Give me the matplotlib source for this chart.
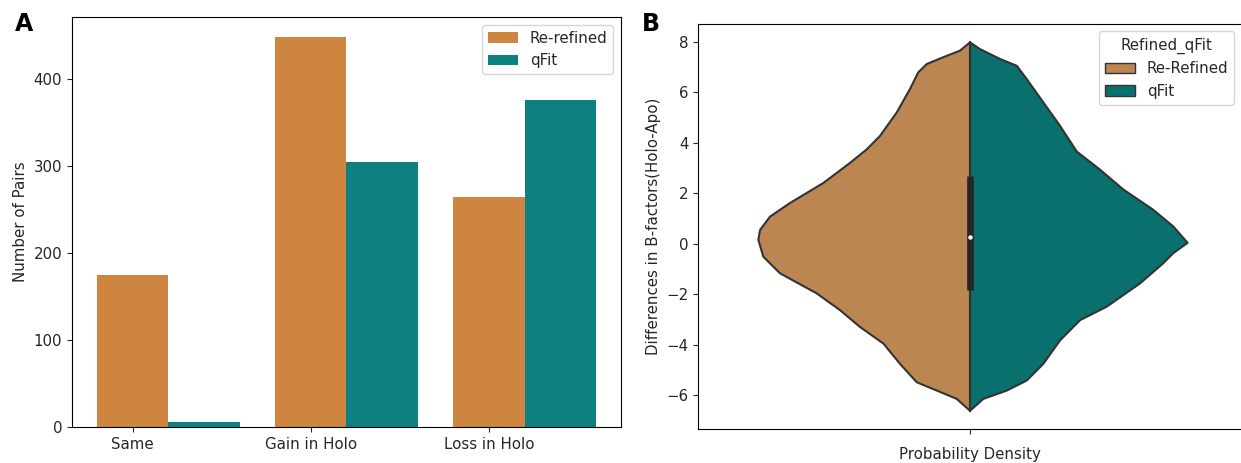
"""
Panel A: pair counts per category (Re-refined vs qFit).
Panel B: split violin of B-factor differences (Holo-Apo).
"""

import numpy as np
import matplotlib
matplotlib.use("Agg")
import matplotlib.pyplot as plt
from matplotlib.patches import Patch

# ---------------------------------------------------------------------------
# Data
# ---------------------------------------------------------------------------
categories = ["Same", "Gain in Holo", "Loss in Holo"]
rerefined_counts = [175, 449, 264]
qfit_counts = [6, 305, 376]

# violin half-width profiles (relative density, max = 1) vs B-factor difference
rerefined_levels = [7.97, 7.64, 7.38, 7.11, 6.78, 6.12, 5.19, 4.26, 3.73, 3.20, 2.40,
                    1.61, 1.07, 0.54, 0.15, -0.52, -1.18, -1.97, -2.64, -3.30, -3.96,
                    -4.76, -5.49, -5.82, -6.15, -6.62]
rerefined_density = [0.0, 0.046, 0.123, 0.199, 0.238, 0.276, 0.337, 0.414, 0.475,
                     0.551, 0.674, 0.827, 0.919, 0.965, 0.973, 0.950, 0.873, 0.705,
                     0.597, 0.506, 0.398, 0.322, 0.245, 0.153, 0.061, 0.0]

qfit_levels = [7.97, 7.70, 7.31, 7.04, 6.51, 5.59, 4.66, 3.65, 2.93, 2.14, 1.34, 0.68,
               0.03, -0.38, -0.78, -1.58, -2.50, -3.03, -3.83, -4.76, -5.42, -5.82,
               -6.15, -6.62]
qfit_density = [0.0, 0.046, 0.138, 0.215, 0.261, 0.337, 0.414, 0.49, 0.597, 0.705,
                0.842, 0.934, 1.0, 0.934, 0.888, 0.781, 0.628, 0.506, 0.414, 0.337,
                0.261, 0.169, 0.061, 0.0]

# pooled box summary: min, q1, median, q3, max
box_stats = [-6.62, -1.84, 0.26, 2.66, 7.97]

BAR_ORANGE = "#CD853F"
BAR_TEAL = "#0E807F"
VIO_ORANGE = "#BC8652"
VIO_TEAL = "#0A706D"
EDGE = "#333333"


def plot_counts(ax):
    """Grouped bars, ticks sit under the Re-refined bars."""
    x = np.arange(len(categories))
    w = 0.4
    ax.bar(x, rerefined_counts, w, color=BAR_ORANGE, label="Re-refined")
    ax.bar(x + w, qfit_counts, w, color=BAR_TEAL, label="qFit")
    ax.set_xticks(x)
    ax.set_xticklabels(categories)
    ax.set_ylabel("Number of Pairs")
    ax.legend(loc="upper right")


def plot_violin(ax):
    """Split violin drawn from the density profiles."""
    half = 0.4  # max half-width in axis units (seaborn width=0.8)
    lv = np.array(rerefined_levels)
    ld = np.array(rerefined_density) * half
    rv = np.array(qfit_levels)
    rd = np.array(qfit_density) * half

    ax.fill(np.concatenate([[0], -ld, [0]]), np.concatenate([[lv[0]], lv, [lv[-1]]]),
            facecolor=VIO_ORANGE, edgecolor=EDGE, linewidth=1.5,
            joinstyle="round", zorder=2)
    ax.fill(np.concatenate([[0], rd, [0]]), np.concatenate([[rv[0]], rv, [rv[-1]]]),
            facecolor=VIO_TEAL, edgecolor=EDGE, linewidth=1.5,
            joinstyle="round", zorder=2)

    vmin, q1, med, q3, vmax = box_stats
    ax.plot([0, 0], [vmin, vmax], color=EDGE, linewidth=1.5, zorder=3)
    ax.plot([0, 0], [q1, q3], color="#262626", linewidth=4.8,
            solid_capstyle="butt", zorder=3)
    ax.plot([0], [med], "o", color="white", markersize=2.2, zorder=4)

    ax.set_xlim(-0.5, 0.5)
    ax.set_xticks([0])
    ax.set_xticklabels([""])
    ax.set_xlabel("Probability Density", labelpad=6)
    ax.set_ylabel("Differences in B-factors(Holo-Apo)")
    ax.set_yticks(np.arange(-6, 9, 2))
    ax.margins(y=0.05)

    handles = [Patch(facecolor=VIO_ORANGE, edgecolor=EDGE, label="Re-Refined"),
               Patch(facecolor=VIO_TEAL, edgecolor=EDGE, label="qFit")]
    ax.legend(handles=handles, title="Refined_qFit", loc="upper right",
              title_fontsize=10.8)


def main():
    plt.rcParams["font.size"] = 10.8
    plt.rcParams["text.color"] = "#262626"
    plt.rcParams["axes.labelcolor"] = "#262626"
    plt.rcParams["xtick.color"] = "#262626"
    plt.rcParams["ytick.color"] = "#262626"
    fig = plt.figure(figsize=(12.41, 4.63), dpi=100)
    ax1 = fig.add_axes([0.058, 0.078, 0.4424, 0.8848])
    ax2 = fig.add_axes([0.5625, 0.073, 0.4383, 0.8754])

    plot_counts(ax1)
    plot_violin(ax2)

    fig.text(0.012, 0.975, "A", fontsize=17, fontweight="bold", va="top", color="black")
    fig.text(0.517, 0.975, "B", fontsize=17, fontweight="bold", va="top", color="black")

    fig.savefig("out.png", dpi=100)
    plt.close(fig)


if __name__ == "__main__":
    main()
